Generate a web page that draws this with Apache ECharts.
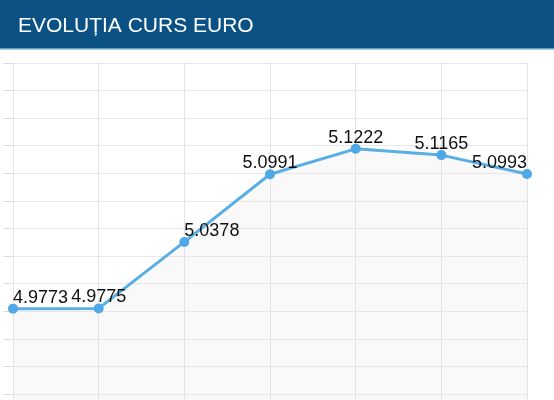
<!DOCTYPE html>
<html>
<head>
<meta charset="utf-8">
<script src="https://cdn.jsdelivr.net/npm/echarts@6/dist/echarts.min.js"></script>
<style>
html,body{margin:0;padding:0;background:#fff;}
#c{width:554px;height:400px;}
</style>
</head>
<body>
<div id="c"></div>
<script>
const titleText = "EVOLUȚIA CURS EURO";
const categories = ["Zi 1", "Zi 2", "Zi 3", "Zi 4", "Zi 5", "Zi 6", "Zi 7"];
const euroValues = [4.9773, 4.9775, 5.0378, 5.0991, 5.1222, 5.1165, 5.0993];
const yMin = 4.875, yMax = 5.2, yStep = 0.025;

// label placement styles per point (presentation only)
const labelStyles = [
  {align: 'left', offset: [0, 0]},
  {align: 'center', offset: [0, 0]},
  {align: 'left', offset: [0, 0]},
  {align: 'center', offset: [0, 0]},
  {align: 'center', offset: [0, 0]},
  {align: 'center', offset: [0, 0]},
  {align: 'right', offset: [0, 0]}
];

const chart = echarts.init(document.getElementById('c'), null, {renderer: 'canvas'});
chart.setOption({
  animation: false,
  backgroundColor: '#ffffff',
  graphic: [
    {type: 'rect', left: 0, top: 0, shape: {width: 554, height: 48}, style: {fill: '#0b5183'}, z: 0},
    {type: 'rect', left: 0, top: 48, shape: {width: 554, height: 1.5}, style: {fill: '#5f9fc6'}, z: 0}
  ],
  title: {
    text: titleText,
    left: 13, top: 11,
    textStyle: {color: '#ffffff', fontSize: 21, fontWeight: 'normal', fontFamily: 'Liberation Sans, Arial, sans-serif'}
  },
  grid: {left: 13, right: 27, top: 63, bottom: -21.5, containLabel: false, outerBoundsMode: 'none'},
  xAxis: {
    type: 'category',
    data: categories,
    boundaryGap: false,
    axisLine: {show: false},
    axisTick: {show: false},
    axisLabel: {show: false},
    splitLine: {show: true, lineStyle: {color: '#e4e4e8', width: 1}}
  },
  yAxis: {
    type: 'value',
    min: yMin, max: yMax, interval: yStep,
    axisLine: {show: false},
    axisTick: {show: true, length: 10, lineStyle: {color: '#dcdce0'}},
    axisLabel: {show: false},
    splitLine: {show: true, lineStyle: {color: '#e8e8ec', width: 1}}
  },
  series: [{
    type: 'line',
    data: euroValues.map((v, i) => ({
      value: v,
      label: {align: labelStyles[i].align, offset: labelStyles[i].offset}
    })),
    symbol: 'circle',
    symbolSize: 10,
    lineStyle: {color: '#5aaee4', width: 3},
    itemStyle: {color: '#4ea7e6'},
    areaStyle: {color: 'rgba(225,225,228,0.3)', origin: 'start'},
    label: {
      show: true,
      position: 'top',
      distance: -3,
      color: '#111111',
      fontSize: 18,
      fontFamily: 'Liberation Sans, Arial, sans-serif',
      formatter: p => p.value.toFixed(4)
    },
    z: 3
  }]
});
</script>
</body>
</html>
